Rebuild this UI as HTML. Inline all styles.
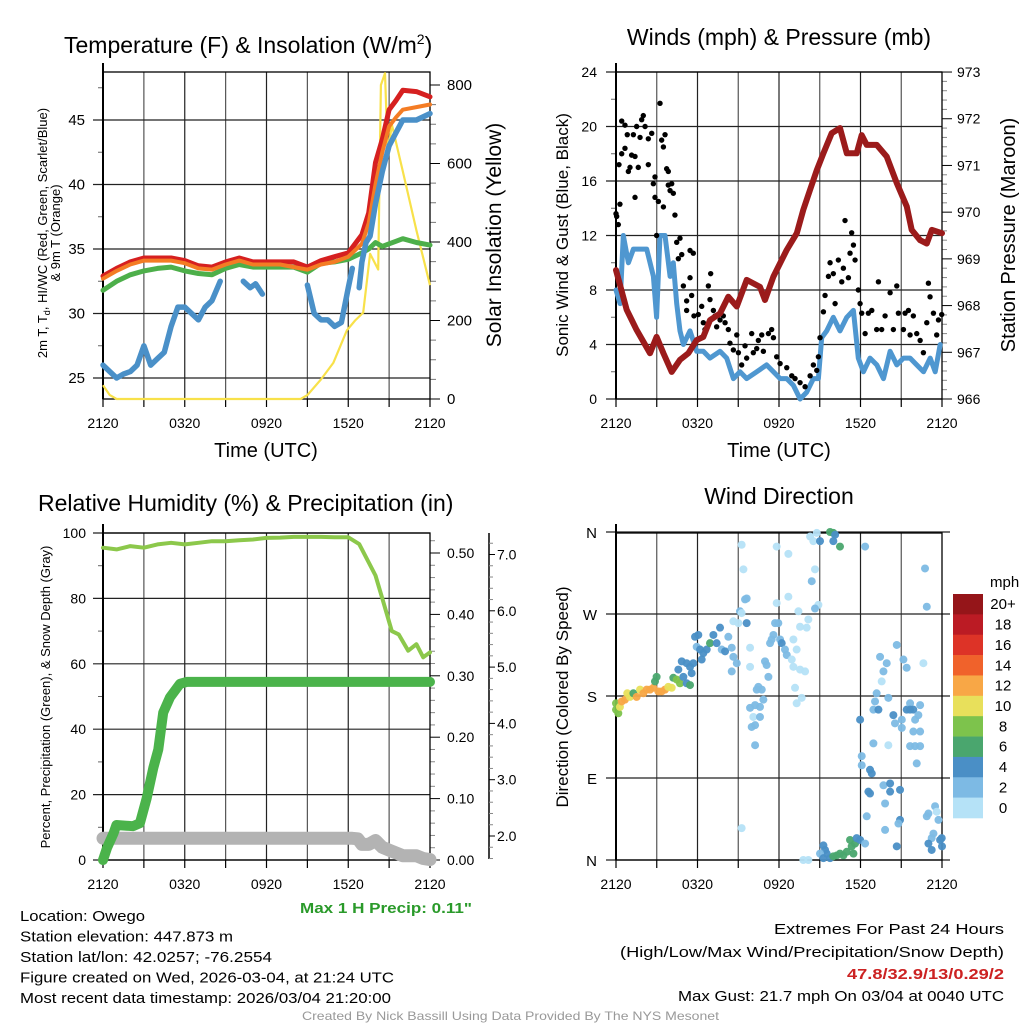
<!DOCTYPE html>
<html><head><meta charset="utf-8"><title>Owego Meteogram</title>
<style>
html,body{margin:0;padding:0;background:#fff;}
svg{display:block;font-family:"Liberation Sans",sans-serif;}
</style></head>
<body>
<svg id="chart" width="1024" height="1024" viewBox="0 0 1024 1024"></svg>
<script>
// ===== Data (hours since 2120 UTC) =====
var xTickLabels = ["2120","0320","0920","1520","2120"];
// Temperature panel
var tT = [0,1,2,3,4,5,6,7,8,9,10,11,12,13,14,15,16,17,18,19,19.5,20,20.5,21,21.5,22,23,24];
var tempRed = [32.9,33.5,34,34.3,34.3,34.3,34.1,33.7,33.6,34,34.3,34,34,34,34,33.6,34.1,34.4,34.7,36.1,37.8,41.7,43.5,45.8,46.5,47.3,47.2,46.8];
var temp9m  = [32.7,33.3,33.8,34.1,34.1,34.1,33.9,33.5,33.4,33.8,34.1,33.8,33.8,33.8,33.6,33.4,33.8,34,34.4,35.4,37,40,42.5,44.5,45.2,45.8,46,46.2];
var tempGreen = [31.8,32.5,33,33.3,33.5,33.6,33.3,33.1,33,33.5,33.8,33.6,33.6,33.6,33.6,33.2,33.9,34,34.2,34.7,35,35.5,35.2,35.4,35.6,35.8,35.5,35.3];
var tdT = [0,0.5,1,1.5,2,2.5,3,3.5,4,4.5,5,5.5,6,6.5,7,7.5,8,8.6,null,10.3,10.8,11.2,11.7,null,15,15.5,16,16.5,17,17.5,18,18.3,null,18.8,19,19.3,19.6,20,20.5,21,21.5,22,23,24];
var dewpt = [26,25.5,25,25.3,25.5,26,27.5,26,26.5,27,29,30.5,30.5,30,29.5,30.5,31,32.5,null,32.5,32,32.3,31.5,null,32.2,30,29.5,29.5,29,29.3,32,33.5,null,32,34,35.5,36,38.5,41,43,44,45,45,45.5];
var solT = [0,0.5,1,5,10,14.5,15,16,16.9,17.9,18.5,19.1,19.6,20.2,20.4,20.7,20.9,21.2,22,23,24];
var solar = [35,10,0,0,0,0,10,50,92,175,200,220,370,330,800,830,620,700,580,430,290];
// Winds panel
var windT = [0,0.3,0.54,0.91,1.28,1.77,2.26,2.75,2.99,3.24,3.61,3.98,4.22,4.47,4.71,4.96,5.45,5.94,6.43,6.92,7.66,8.15,8.64,9.13,9.62,10.36,11.09,11.59,12.08,12.57,13.06,13.55,14.04,14.53,14.9,15.14,15.51,16,16.49,16.99,17.48,17.84,18.21,18.7,19.2,19.69,20.18,20.67,21.16,21.65,22.14,22.64,23.13,23.5,23.87];
var windSpd = [8,7,12,10,11,11,11,9,6,12,12,9,10,7,5,4,5,3.5,3.5,3,3.5,3,1.5,2,1.5,2,2.5,2,1.5,1.5,1,0,0.5,1.5,1.5,4.5,5,6,5,6,6.5,3,2,3,2.5,1.5,3.5,2.5,3,3,2.5,2,3,2,4];
var gustT = [0,0.05,0.17,0.29,0.22,0.42,0.42,0.66,0.66,0.83,0.91,1.03,1.28,1.15,1.4,1.4,1.52,1.64,1.77,1.89,2.01,2.14,2.38,2.38,2.63,2.75,2.87,2.87,2.99,3.12,3.24,3.36,3.49,3.49,3.61,3.73,3.85,3.85,3.98,4.1,4.22,4.34,4.47,4.59,4.71,4.84,4.96,5.2,5.2,5.45,5.57,5.45,5.69,5.74,6.06,6.31,6.43,6.55,6.8,6.92,6.97,7.17,7.29,7.41,7.66,7.9,8.03,8.27,8.39,8.64,8.89,9.01,9.25,9.5,9.62,9.99,10.11,10.36,10.48,10.73,10.85,11.22,11.46,11.59,11.83,12.08,12.57,12.94,13.18,13.55,13.92,14.29,14.53,14.78,14.9,15.02,15.27,15.39,15.64,15.76,16,16.13,16.37,16.62,16.74,16.86,17.11,17.23,17.35,17.48,17.6,17.84,17.97,18.09,18.34,18.58,18.83,19.19,19.32,19.56,19.81,20.18,20.42,20.67,20.79,21.16,21.28,21.53,21.65,21.89,22.14,22.39,22.63,22.88,23,23.12,23.37,23.61,23.74,23.98];
var gust = [13.6,13.4,12.8,14.3,17.2,18,20.4,18.4,20.1,19.4,16.7,17,19.4,17.9,17.8,14.8,20,17,19.2,20.5,20.8,20,19.1,17.2,19.5,15.8,16.3,14.8,12,14.5,21.7,19,14.1,18.5,19.4,16.9,16.7,15.7,15.3,15.8,15.1,13.5,11.5,10.3,11.8,10.6,8.3,6.5,7.2,8.9,7.6,10.9,10.7,6.1,6.2,6.8,5.6,5.1,8.3,7.3,9.2,6.5,6.1,5.3,5.8,6.1,5.6,5.1,4.1,3.6,4.7,3.4,2.5,3.9,3,4.8,3.4,3.7,4.3,4.7,3.5,4.8,5.1,4.5,3.1,2.6,2.3,1.7,1.5,1.2,0.9,1.7,2.5,2.1,3.1,4.5,6.4,7.6,9,10,9.2,7,10.2,8.6,9.6,13.1,8.9,10.7,12.2,11.3,10.2,8,7,6.3,4.8,6.3,6.5,5.1,8.6,5.1,6.1,7.8,5.1,8.3,6.3,5.1,6.3,6.5,4.7,6.1,4.8,4.3,3.4,5.6,8.5,7.5,6.3,4.7,5.8,6.2];
var presT = [0,0.79,1.52,2.5,2.99,3.49,4.1,4.71,5.33,5.94,6.43,6.92,7.66,8.27,8.89,9.62,10.6,10.97,11.59,12.57,13.31,13.79,14.29,14.78,15.27,15.88,16.49,16.99,17.72,18.09,18.46,19.2,19.93,20.67,21.41,21.77,22.39,22.88,23.25,24];
var pressure = [968.76,967.91,967.48,966.98,967.33,966.98,966.58,966.84,966.98,967.26,967.33,967.69,967.83,968.19,967.98,968.55,968.4,968.12,968.62,969.19,969.55,970.05,970.48,970.9,971.26,971.69,971.8,971.26,971.26,971.65,971.44,971.44,971.19,970.62,970.12,969.62,969.4,969.33,969.62,969.55];
// RH / precip panel
var rhT = [0,1,2,3,4,5,6,7,8,9,10,11,12,13,14,15,16,17,18,18.8,19.3,20,20.5,21.2,21.7,22.4,23,23.5,24];
var rh = [95.5,95,96,95.5,96.5,97,96.5,97,97.5,97.5,97.8,98,98.5,98.6,98.8,98.8,98.8,98.7,98.7,96.6,92.6,87,80,70,69,64,66,62,63.5];
var prT = [0,0.3,0.76,0.98,2.2,2.71,3.2,3.69,4.06,4.42,4.92,5.65,6.14,24];
var precip = [0,0.02,0.043,0.057,0.055,0.06,0.1,0.15,0.18,0.24,0.265,0.287,0.29,0.29];
var snT = [0,18.3,18.7,19,19.5,20,20.5,21,21.5,22,23,23.5,24];
var snow = [1.96,1.96,1.95,1.85,1.85,1.92,1.8,1.75,1.7,1.65,1.65,1.6,1.58];
// Wind direction panel
var wdT = [0,0,0.17,0.29,0.42,0.66,0.83,1.03,1.28,1.52,1.77,2.01,2.26,2.5,2.75,2.87,2.99,3.12,3.36,3.61,3.85,4.1,4.22,4.47,4.71,5.2,5.45,4.59,4.84,5.2,5.45,5.57,4.96,5.69,5.82,6.06,5.94,6.19,6.43,6.31,6.68,6.92,7.17,7.41,7.66,7.78,8.03,8.27,8.52,8.64,8.89,8.52,9.13,9.25,8.64,9.01,9.62,9.5,9.62,9.25,9.38,9.87,9.87,10.48,10.73,10.36,10.85,10.6,10.24,9.87,10.11,9.99,10.24,10.6,10.24,9.25,10.97,11.09,11.22,11.34,11.46,11.59,11.71,11.95,12.08,12.2,12.57,12.44,12.94,13.06,13.3,13.06,13.18,13.3,13.67,13.55,13.92,13.55,14.04,14.16,13.43,11.83,12.69,11.83,12.69,14.41,14.65,14.9,14.65,14.29,14.53,14.78,15.02,15.76,16,16.13,16,16.49,18.34,17.97,18.09,18.09,18.7,18.83,18.58,18.7,18.46,18.95,19.19,19.07,18.95,19.32,19.44,19.56,19.69,19.93,20.05,20.05,19.69,19.81,20.18,20.18,19.81,20.42,20.54,20.67,20.91,21.04,21.04,21.16,21.4,21.4,21.65,21.65,21.89,22.02,22.26,22.39,21.65,22.02,22.39,21.89,22.39,22.14,22.63,22.75,22.88,20.91,20.79,20.67,22.88,23,23.49,23.61,23.74,23.37,23.24,23,23.24,23.86,23.98,24,15.27,15.39,15.51,15.76,16,16.25,16.49,16.74,16.99,17.23,17.35,17.48,17.6,17.72,17.97,18.34,15.02,13.79,14.16,15.27];
var wdDir = [172,165,161,168,174,176,183,179,183,179,187,183,187,187,189,196,201,185,185,187,190,189,200,198,194,194,192,209,218,216,212,205,201,216,245,247,234,231,227,220,231,238,247,238,255,231,229,245,233,223,216,207,273,271,262,260,260,286,287,346,319,233,212,190,187,187,176,168,170,167,157,146,148,157,126,35,218,214,201,238,242,247,260,260,242,238,225,231,220,242,231,212,189,172,178,209,207,256,255,264,273,282,289,344,336,306,319,280,276,355,350,359,350,360,359,357,350,344,344,154,114,104,99,95,75,73,48,128,183,174,165,165,223,196,207,216,178,126,82,62,84,75,33,159,150,236,77,145,154,220,211,165,172,165,165,154,159,170,125,125,125,141,141,106,216,320,278,44,40,15,48,51,59,53,44,29,24,18,11,22,24,15,16,11,7,2,4,5,7,5,9,22,15,7,18,24,22,18,7,0,0,2];
var wdSpd = [9,9,9,11,13,13,11,11,7,13,11,13,13,13,13,7,7,13,13,13,11,11,7,9,9,5,7,5,5,5,5,5,5,5,5,5,3,5,5,5,5,7,5,5,5,3,5,3,3,3,3,3,3,1,1,1,5,3,3,1,1,1,1,3,3,3,3,3,3,3,1,3,3,3,3,1,3,3,3,3,3,3,3,3,3,5,3,3,1,1,1,1,1,1,1,1,1,1,1,1,1,1,1,1,1,3,1,1,3,1,1,1,5,7,7,5,5,7,3,5,3,3,5,5,5,5,3,3,3,3,3,5,3,1,3,3,3,1,3,3,5,5,3,5,3,3,5,3,3,3,3,5,3,5,5,3,3,3,3,3,3,3,3,3,1,3,3,5,3,5,3,3,3,1,3,3,3,5,5,5,5,5,5,5,5,5,7,7,7,7,7,7,7,7,7,5,5,3,3,1,1,5];
var legendLabels = ["20+","18","16","14","12","10","8","6","4","2","0"];
var legendColors = ["#951519","#bb1b24","#dd3327","#f0622b","#f8a746","#e8e05b","#7dc34c","#4aa66e","#4a8fc6","#7dbae4","#b5e2f7"];

var NS = "http://www.w3.org/2000/svg";
var svg = document.getElementById("chart");
function mk(tag, attrs, parent){
  var e = document.createElementNS(NS, tag);
  for (var k in attrs) e.setAttribute(k, attrs[k]);
  (parent || svg).appendChild(e);
  return e;
}
function txt(s, x, y, size, anchor, parent, extra){
  var a = {x:x, y:y, "font-size":size, "text-anchor":anchor||"start", fill:"#000"};
  if (extra) for (var k in extra) a[k]=extra[k];
  var t = mk("text", a, parent);
  t.textContent = s;
  return t;
}
function rtxt(s, cx, cy, size, parent){
  var t = txt(s, 0, 0, size, "middle", parent, {transform:"translate("+cx+","+cy+") rotate(-90)"});
  return t;
}
function linePath(ts, vs, xf, yf){
  var d = "", pen = false;
  for (var i=0;i<ts.length;i++){
    if (ts[i]===null || vs[i]===null){ pen=false; continue; }
    d += (pen?"L":"M") + xf(ts[i]).toFixed(1) + "," + yf(vs[i]).toFixed(1);
    pen = true;
  }
  return d;
}
function makeXAxis(g, x0, x1, y1){
  var step = (x1-x0)/8;
  for (var i=0;i<=8;i++){
    var x = x0+i*step;
    var gl = mk("line",{x1:x,y1:y1,x2:x,y2:y1+8,stroke:"#000","stroke-width":1.2},g);
    
    
  }
  for (var j=0;j<xTickLabels.length;j++){
    var lt = txt(xTickLabels[j], x0+j*2*step, y1+29, 14, "middle", g);
    
    
  }
}
function vGrid(g, x0, x1, y0, y1){
  var step=(x1-x0)/8;
  for (var i=1;i<8;i++){
    var l = mk("line",{x1:x0+i*step,y1:y0,x2:x0+i*step,y2:y1,stroke:(i%2? "#555":"#222"),"stroke-width":1.2},g);
    
    
  }
}
function frame(g, x0, x1, y0, y1){
  var r = mk("rect",{x:x0,y:y0,width:x1-x0,height:y1-y0,fill:"none",stroke:"#000","stroke-width":1.3},g);
  
  
  var l = mk("line",{x1:x0,y1:y0-9,x2:x0,y2:y1,stroke:"#000","stroke-width":2},g);
  
  
}

// ===== Panel 1: Temperature =====
(function(){
  var x0=103,x1=430,y0=72,y1=399;
  var g = mk("g",{});
  
  
  var X = function(t){return x0 + t*(x1-x0)/24;};
  var YL = function(v){return 378 - (v-25)*12.9;};
  var YR = function(v){return 399 - v*0.3925;};
  var tt = txt("Temperature (F) & Insolation (W/m", 64, 53, 23, "start", g);
  
  
  var sup = mk("tspan",{dy:-9,"font-size":14},tt); sup.textContent="2";
  var sp2 = mk("tspan",{dy:9},tt); sp2.textContent=")";
  vGrid(g,x0,x1,y0,y1);
  for (var v=25; v<=45; v+=5){
    var h = mk("line",{x1:x0-10,y1:YL(v),x2:x1,y2:YL(v),stroke:"#222","stroke-width":1.2},g);
    
    
    var lb = txt(String(v), 85, YL(v)+5, 15, "end", g);
    
    
  }
  for (var m=27.5; m<=48; m+=5){
    var mt = mk("line",{x1:x0-5,y1:YL(m),x2:x0,y2:YL(m),stroke:"#666","stroke-width":1},g);
    
    
  }
  for (var s=0; s<=800; s+=50){
    var big = (s%200===0);
    var rt = mk("line",{x1:x1,y1:YR(s),x2:x1+(big?10:6),y2:YR(s),stroke:big?"#000":"#777","stroke-width":1},g);
    
    
    if (big){
      var rl = txt(String(s), 447, YR(s)+5, 15, "start", g);
      
      
    }
  }
  makeXAxis(g,x0,x1,y1);
  var xl = txt("Time (UTC)", 266, 457, 20, "middle", g);
  
  
  var y1t = rtxt("2m T, T", 47, 233, 13, g);
  y1t.textContent = "";
  var a = mk("tspan",{},y1t); a.textContent="2m T, T";
  var b = mk("tspan",{"font-size":9,dy:3},y1t); b.textContent="d";
  var c = mk("tspan",{dy:-3},y1t); c.textContent=", HI/WC (Red, Green, Scarlet/Blue)";
  
  
  var y2t = rtxt("& 9m T (Orange)", 60, 233, 13, g);
  
  
  var yr = rtxt("Solar Insolation (Yellow)", 501, 235, 21, g);
  
  
  frame(g,x0,x1,y0,y1);
  var sol = mk("path",{d:linePath(solT,solar,X,YR),fill:"none",stroke:"#f8e14a","stroke-width":2.2,"stroke-linejoin":"round"},g);
  
  
  var gr = mk("path",{d:linePath(tT,tempGreen,X,YL),fill:"none",stroke:"#4daf4a","stroke-width":5,"stroke-linejoin":"round","stroke-linecap":"round"},g);
  
  
  var rd = mk("path",{d:linePath(tT,tempRed,X,YL),fill:"none",stroke:"#d62020","stroke-width":5,"stroke-linejoin":"round","stroke-linecap":"round"},g);
  
  
  var or = mk("path",{d:linePath(tT,temp9m,X,YL),fill:"none",stroke:"#f47c24","stroke-width":4,"stroke-linejoin":"round","stroke-linecap":"round"},g);
  
  
  var dp = mk("path",{d:linePath(tdT,dewpt,X,YL),fill:"none",stroke:"#4a90c8","stroke-width":5.5,"stroke-linejoin":"round","stroke-linecap":"round"},g);
  
  
})();

// ===== Panel 2: Winds =====
(function(){
  var x0=616,x1=942,y0=72,y1=399;
  var g = mk("g",{});
  
  
  var X = function(t){return x0 + t*(x1-x0)/24;};
  var YL = function(v){return 399 - v*13.625;};
  var YR = function(p){return 399 - (p-966)*46.71;};
  var tt = txt("Winds (mph) & Pressure (mb)", 779, 45, 23, "middle", g);
  
  
  vGrid(g,x0,x1,y0,y1);
  for (var v=0; v<=24; v+=4){
    var h = mk("line",{x1:x0-10,y1:YL(v),x2:x1,y2:YL(v),stroke:"#222","stroke-width":1.2},g);
    
    
    var lb = txt(String(v), 597, YL(v)+5, 14, "end", g);
    
    
  }
  for (var m=2; m<24; m+=4){
    var mt = mk("line",{x1:x0-5,y1:YL(m),x2:x0,y2:YL(m),stroke:"#666","stroke-width":1},g);
    
    
  }
  for (var p=0; p<=70; p+=2){
    var pv = 966 + p/10;
    var big = (p%10===0);
    var rt = mk("line",{x1:x1,y1:YR(pv),x2:x1+(big?10:5),y2:YR(pv),stroke:big?"#000":"#888","stroke-width":1},g);
    
    
    if (big){
      var rl = txt(String(966+p/10), 957, YR(pv)+5, 14, "start", g);
      
      
    }
  }
  makeXAxis(g,x0,x1,y1);
  var xl = txt("Time (UTC)", 779, 457, 20, "middle", g);
  
  
  var yl = rtxt("Sonic Wind & Gust (Blue, Black)", 568, 235, 17, g);
  
  
  var yr = rtxt("Station Pressure (Maroon)", 1015, 235, 20, g);
  
  
  frame(g,x0,x1,y0,y1);
  var ws = mk("path",{d:linePath(windT,windSpd,X,YL),fill:"none",stroke:"#4f97d0","stroke-width":5,"stroke-linejoin":"round","stroke-linecap":"round"},g);
  
  
  for (var i=0;i<gustT.length;i++){
    var c = mk("circle",{cx:X(gustT[i]),cy:YL(gust[i]),r:2.7,fill:"#000"},g);
    
    
  }
  var pr = mk("path",{d:linePath(presT,pressure,X,YR),fill:"none",stroke:"#9b1b1b","stroke-width":6,"stroke-linejoin":"round","stroke-linecap":"round"},g);
  
  
})();

// ===== Panel 3: RH / Precip =====
(function(){
  var x0=103,x1=430,y0=533,y1=860;
  var g = mk("g",{});
  
  
  var X = function(t){return x0 + t*(x1-x0)/24;};
  var YL = function(v){return 860 - v*3.27;};
  var YI = function(v){return 860 - v*614;};
  var YS = function(v){return 836 - (v-2)*56.3;};
  var tt = txt("Relative Humidity (%) & Precipitation (in)", 38, 511, 23, "start", g);
  
  
  vGrid(g,x0,x1,y0,y1);
  for (var v=0; v<=100; v+=20){
    var h = mk("line",{x1:x0-10,y1:YL(v),x2:x1,y2:YL(v),stroke:"#222","stroke-width":1.2},g);
    
    
    var lb = txt(String(v), 86, YL(v)+5, 14, "end", g);
    
    
  }
  for (var m=10; m<100; m+=20){
    var mt = mk("line",{x1:x0-5,y1:YL(m),x2:x0,y2:YL(m),stroke:"#666","stroke-width":1},g);
    
    
  }
  for (var k=0; k<=26; k++){
    var iv = k*0.02, big = (k%5===0);
    var rt = mk("line",{x1:x1,y1:YI(iv),x2:x1+(big?10:5),y2:YI(iv),stroke:big?"#000":"#888","stroke-width":1},g);
    
    
    if (big){
      var rl = txt(iv.toFixed(2), 447, YI(iv)+5, 14, "start", g);
      
      
    }
  }
  var ax2 = mk("line",{x1:489,y1:533,x2:489,y2:859,stroke:"#000","stroke-width":1.5},g);
  
  
  for (var q=8; q<=37; q++){
    var sv = q*0.2, sb = (q%5===0);
    if (YS(sv) < 533 || YS(sv) > 860) continue;
    var st = mk("line",{x1:489,y1:YS(sv),x2:489+(sb?6:4),y2:YS(sv),stroke:sb?"#000":"#888","stroke-width":1},g);
    
    
    if (sb){
      var sl = txt(sv.toFixed(1), 497, YS(sv)+5, 14, "start", g);
      
      
    }
  }
  makeXAxis(g,x0,x1,y1);
  var yl = rtxt("Percent, Precipitation (Green), & Snow Depth (Gray)", 50, 697, 13, g);
  
  
  frame(g,x0,x1,y0,y1);
  var sn = mk("path",{d:linePath(snT,snow,X,YS),fill:"none",stroke:"#b3b3b3","stroke-width":13,"stroke-linejoin":"round","stroke-linecap":"round"},g);
  
  
  var pc = mk("path",{d:linePath(prT,precip,X,YI),fill:"none",stroke:"#4bb34b","stroke-width":10,"stroke-linejoin":"round","stroke-linecap":"round"},g);
  
  
  var rhl = mk("path",{d:linePath(rhT,rh,X,YL),fill:"none",stroke:"#8cc84b","stroke-width":4,"stroke-linejoin":"round","stroke-linecap":"round"},g);
  
  
  var mp = txt("Max 1 H Precip: 0.11\"", 300, 913, 15, "start", g, {fill:"#2a9a2a","font-weight":"bold",textLength:172,lengthAdjust:"spacingAndGlyphs"});
  
  
})();

// ===== Panel 4: Wind Direction =====
(function(){
  var x0=616,x1=942,y0=533,y1=860;
  var g = mk("g",{});
  
  
  var X = function(t){return x0 + t*(x1-x0)/24;};
  var YD = function(d){return 860 - d*328/360;};
  var tt = txt("Wind Direction", 779, 504, 23, "middle", g);
  
  
  vGrid(g,x0,x1,y0,y1);
  var dl = ["N","E","S","W","N"];
  for (var i=0;i<5;i++){
    var h = mk("line",{x1:x0-10,y1:YD(i*90),x2:x1+8,y2:YD(i*90),stroke:"#222","stroke-width":1.2},g);
    
    
    var lb = txt(dl[i], 597, YD(i*90)+6, 15, "end", g);
    
    
  }
  makeXAxis(g,x0,x1,y1);
  var yl = rtxt("Direction (Colored By Speed)", 568, 697, 17, g);
  
  
  frame(g,x0,x1,y0,y1);
  function col(s){
    var idx = Math.min(10, Math.floor(s/2));
    return legendColors[10-idx];
  }
  for (var j=0;j<wdT.length;j++){
    var c = mk("circle",{cx:X(wdT[j]),cy:YD(wdDir[j]),r:4,fill:col(wdSpd[j]),"fill-opacity":0.95},g);
    
    
  }
  var lg = mk("g",{},g);
  
  
  var mph = txt("mph", 990, 587, 15, "start", lg);
  
  
  var bh = (818-594)/11;
  for (var k=0;k<11;k++){
    var r = mk("rect",{x:953,y:594+k*bh,width:30,height:bh+0.3,fill:legendColors[k]},lg);
    
    
    var lt = txt(legendLabels[k], 1003, 594+k*bh+bh/2+5, 15, "middle", lg);
    
    
  }
})();

// ===== Footer text =====
(function(){
  var g = mk("g",{});
  
  
  var L = [["Location: Owego",125],["Station elevation: 447.873 m",213],["Station lat/lon: 42.0257; -76.2554",252],["Figure created on Wed, 2026-03-04, at 21:24 UTC",374],["Most recent data timestamp: 2026/03/04 21:20:00",371]];
  for (var i=0;i<L.length;i++){
    var t = txt(L[i][0], 20, 921+i*20.5, 15, "start", g, {textLength:L[i][1],lengthAdjust:"spacingAndGlyphs"});
    
    
  }
  var g2 = mk("g",{});
  
  
  var R = [["Extremes For Past 24 Hours",230,934,"#000",false],["(High/Low/Max Wind/Precipitation/Snow Depth)",384,957,"#000",false],["47.8/32.9/13/0.29/2",157,979,"#cc2222",true],["Max Gust: 21.7 mph On 03/04 at 0040 UTC",326,1001,"#000",false]];
  for (var j=0;j<R.length;j++){
    var ex = {textLength:R[j][1],lengthAdjust:"spacingAndGlyphs",fill:R[j][3]};
    if (R[j][4]) ex["font-weight"]="bold";
    var t2 = txt(R[j][0], 1004-R[j][1], R[j][2], 15, "start", g2, ex);
    
    
  }
  var cr = txt("Created By Nick Bassill Using Data Provided By The NYS Mesonet", 302, 1020, 12, "start", null, {fill:"#999",textLength:417,lengthAdjust:"spacingAndGlyphs"});
  
  
})();
</script>
</body></html>
